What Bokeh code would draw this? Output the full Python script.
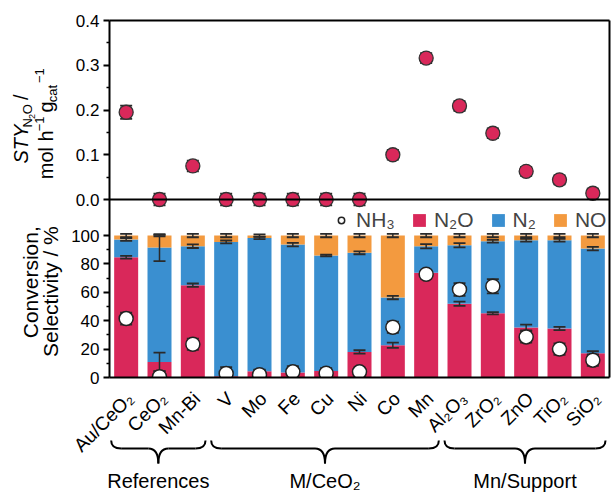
import math
import numpy as np
from bokeh.plotting import figure
from bokeh.models import (FactorRange, Range1d, FixedTicker, Span, LinearAxis,
                          Legend, LegendItem, ColumnDataSource)
from bokeh.layouts import column, row
from bokeh.core.properties import value
from bokeh.embed import file_html
from bokeh.resources import INLINE

# ---------------- data ----------------
catalysts = ["Au/CeO₂", "CeO₂", "Mn-Bi", "V", "Mo", "Fe", "Cu", "Ni", "Co", "Mn",
             "Al₂O₃", "ZrO₂", "ZnO", "TiO₂", "SiO₂"]
sty_n2o = [0.195, 0.0, 0.075, 0.0, 0.0, 0.0, 0.0, 0.0, 0.100, 0.316,
           0.209, 0.148, 0.063, 0.044, 0.014]
sty_err = [0.015, 0.013, 0.012, 0.013, 0.013, 0.013, 0.013, 0.013, 0.011, 0.011,
           0.011, 0.011, 0.010, 0.010, 0.010]
sel_n2o = [84.7, 11.0, 65.0, 0.8, 4.4, 3.5, 4.5, 18.0, 22.7, 73.7, 52.0, 45.3, 35.2, 34.5, 17.0]
sel_n2 = [12.5, 80.5, 27.5, 94.7, 93.9, 90.1, 81.5, 69.8, 33.6, 18.8, 41.2, 50.7, 61.5, 62.2, 73.8]
sel_no = [2.8, 8.5, 7.5, 4.5, 1.7, 6.4, 14.0, 12.2, 43.7, 7.5, 6.8, 4.0, 3.3, 3.3, 9.2]
err_n2o = [1.0, 6.5, 1.2, 0.5, 0.8, 0.8, 0.8, 1.2, 1.8, 1.0, 1.5, 0.8, 2.0, 1.2, 1.5]
err_n2 = [1.0, 9.5, 1.3, 1.0, 0.8, 1.2, 0.6, 1.0, 1.2, 1.5, 1.5, 1.0, 1.0, 1.0, 1.2]
err_no = [1.2, 0.5, 1.2, 1.2, 0.8, 1.2, 1.2, 1.2, 1.2, 1.2, 1.2, 1.2, 1.2, 1.2, 1.2]
conv_nh3 = [41.5, 0.5, 23.4, 2.8, 2.0, 4.0, 3.0, 4.0, 35.4, 72.7, 62.0, 64.3, 28.6, 20.0, 12.2]
err_nh3 = [4.2, 4.0, 4.0, 4.5, 3.5, 4.0, 3.5, 3.0, 4.0, 3.0, 4.5, 5.0, 4.0, 4.0, 4.0]
groups = ["References", "M/CeO₂", "Mn/Support"]
group_sizes = [3, 7, 5]
sty_ticks = [0.0, 0.1, 0.2, 0.3, 0.4]
sty_minor = [0.05, 0.15, 0.25, 0.35]
pct_ticks = [0, 20, 40, 60, 80, 100]
pct_minor = [10, 30, 50, 70, 90]

# ---------------- style / layout ----------------
C_N2O, C_N2, C_NO = "#D9285A", "#3A8FD0", "#F39A3F"
ERR = "#2a2a2a"
FONT = "Liberation Sans"
WIN_W, WIN_H = 611, 492
WL = 66                      # width of the y-label strip
FL, BR = 109, 2              # frame left (page px), right border
BT, FRAME_H, BB = 20, 357, 10
H1 = BT + FRAME_H + BB
H2 = WIN_H - H1
N = len(catalysts)
CAT_PX = (WIN_W - FL - BR) / N
PX_PER_PCT = 1.42
PCT_END = FRAME_H / PX_PER_PCT
STY_PX = 179 / 0.4
STY_END = 0.4
STY_START = -(FRAME_H - 179) / STY_PX


def sty_to_pct(v):
    return (v - STY_START) / (STY_END - STY_START) * PCT_END


def text_src(items):
    return ColumnDataSource(dict(x=[i[0] for i in items], y=[i[1] for i in items],
                                 text=[i[2] for i in items],
                                 size=[f"{i[3]}px" for i in items],
                                 style=[i[4] for i in items]))


# ---------------- main plot ----------------
xr = FactorRange(factors=catalysts, range_padding=0)
p = figure(width=WIN_W - WL, height=H1, x_range=xr, y_range=Range1d(0, PCT_END + 0.05),
           output_backend="svg", toolbar_location=None, x_axis_location=None,
           min_border_left=FL - WL, min_border_right=BR, min_border_top=BT,
           min_border_bottom=BB)
p.extra_y_ranges = {"sty": Range1d(STY_START, STY_END)}
p.xgrid.grid_line_color = None
p.ygrid.grid_line_color = None
p.outline_line_color = None

for side in ("above", "right", "below"):
    ax = LinearAxis(ticker=FixedTicker(ticks=[]), axis_line_color="black", axis_line_width=2,
                    major_tick_line_color=None, minor_tick_line_color=None,
                    major_tick_out=0, major_tick_in=0, minor_tick_out=0, minor_tick_in=0,
                    major_label_standoff=0, major_label_text_font_size="1px")
    p.add_layout(ax, side)

# stacked bars
src = ColumnDataSource(dict(x=catalysts, n2o=sel_n2o, n2=sel_n2, no=sel_no))
bars = p.vbar_stack(["n2o", "n2", "no"], x="x", width=0.72, source=src,
                    fill_color=[C_N2O, C_N2, C_NO], line_color=None)

lvl1 = np.array(sel_n2o)
lvl2 = lvl1 + np.array(sel_n2)
lvl3 = lvl2 + np.array(sel_no)
ex = catalysts * 3
ey = np.concatenate([lvl1, lvl2, lvl3])
ee = np.array(err_n2o + err_n2 + err_no)
p.segment(x0=ex, y0=ey - ee, x1=ex, y1=ey + ee, line_color=ERR, line_width=1.5)
p.scatter(x=ex * 2, y=np.concatenate([ey - ee, ey + ee]), marker="dash", size=12,
          line_color=ERR, line_width=1.8)

# NH3 conversion
nh3 = np.array(conv_nh3)
ne = np.array(err_nh3)
p.segment(x0=catalysts, y0=nh3 - ne, x1=catalysts, y1=nh3 + ne, line_color=ERR, line_width=1.5)
p.scatter(x=catalysts * 2, y=np.concatenate([nh3 - ne, nh3 + ne]), marker="dash", size=12,
          line_color=ERR, line_width=1.8)
nh3_r = p.scatter(x=catalysts, y=conv_nh3, marker="circle", size=14, fill_color="white",
                  line_color="#222222", line_width=1.5)

# zero line of the STY panel
p.add_layout(Span(location=0, dimension="width", y_range_name="sty",
                  line_color="black", line_width=2))

# STY points
sv = np.array(sty_n2o)
se = np.array(sty_err)
p.segment(x0=catalysts, y0=sv - se, x1=catalysts, y1=sv + se, line_color=ERR,
          line_width=1.5, y_range_name="sty")
p.scatter(x=catalysts * 2, y=np.concatenate([sv - se, sv + se]), marker="dash", size=12,
          line_color=ERR, line_width=1.8, y_range_name="sty")
p.scatter(x=catalysts, y=sty_n2o, marker="circle", size=14, fill_color=C_N2O,
          line_color="#333333", line_width=1.3, y_range_name="sty")

# shared left spine with both tick sets
ya = p.yaxis[0]
major = [float(v) for v in pct_ticks] + [sty_to_pct(v) for v in sty_ticks]
minor = [float(v) for v in pct_minor] + [sty_to_pct(v) for v in sty_minor]
ya.ticker = FixedTicker(ticks=major, minor_ticks=minor)
overrides = {float(v): str(v) for v in pct_ticks}
overrides.update({sty_to_pct(v): f"{v:.1f}" for v in sty_ticks})
ya.major_label_overrides = overrides
ya.axis_line_width = 2
ya.major_tick_line_width = 2
ya.minor_tick_line_width = 1.5
ya.major_tick_out = 6
ya.major_tick_in = 0
ya.minor_tick_out = 3
ya.minor_tick_in = 0
ya.major_label_standoff = 4
ya.major_label_text_font = FONT
ya.major_label_text_font_size = "17px"
ya.major_label_text_color = "black"

legend = Legend(items=[LegendItem(label="NH₃", renderers=[nh3_r]),
                       LegendItem(label="N₂O", renderers=[bars[0]]),
                       LegendItem(label="N₂", renderers=[bars[1]]),
                       LegendItem(label="NO", renderers=[bars[2]])],
                orientation="horizontal", location=(224, 145),
                label_text_font=FONT, label_text_font_size="21px",
                glyph_width=16, glyph_height=16, spacing=16, label_standoff=7,
                padding=0, margin=0, border_line_color=None, background_fill_alpha=0)
p.add_layout(legend)

# ---------------- y-label strip (page pixel coordinates) ----------------
lab = figure(width=WL, height=H1, x_range=Range1d(0, WL), y_range=Range1d(H1, 0),
             output_backend="svg", toolbar_location=None,
             x_axis_location=None, y_axis_location=None,
             min_border_left=0, min_border_right=0, min_border_top=0, min_border_bottom=0)
lab.outline_line_color = None
lab.xgrid.grid_line_color = None
lab.ygrid.grid_line_color = None

AW = {'S': 667, 'T': 611, 'Y': 667, 'N': 722, 'O': 778, '2': 556, ' ': 278, '/': 278,
      'm': 833, 'o': 556, 'l': 222, 'h': 556, '−': 584, '1': 556, 'g': 556, 'c': 500,
      'a': 556, 't': 278}


def pieces(seq, start_y, base_x):
    out = []
    y = start_y
    for text, size, shift, gap, style in seq:
        y -= gap
        out.append((base_x + shift - 0.35 * size, y, text, size, style))
        y -= sum(AW.get(ch, 556) for ch in text) * size / 1000
    return out


ylab = pieces([("STY", 20, 0, 0, "italic"), ("N", 13, 5, 0, "normal"), ("2", 9, 8, 0, "normal"),
               ("O", 13, 5, 0, "normal"), ("/", 20, 0, 5.5, "normal")], 155, 27)
ylab += pieces([("mol h", 20, 0, 0, "normal"), ("−1", 13, -8, 3, "normal"),
                ("g", 20, 0, 5.5, "normal"), ("cat", 13, 5, 0, "normal"),
                ("−1", 13, -8, 3.6, "normal")], 172, 52)
lab.text(x="x", y="y", text="text", text_font_size="size", text_font_style="style",
         source=text_src(ylab), angle=math.pi / 2, text_align="left", text_baseline="middle",
         text_font=value(FONT), text_color="black")
lab.text(x=[37 - 0.35 * 21, 57 - 0.35 * 21], y=[223, 223],
         text=["Conversion,", "Selectivity / %"], angle=math.pi / 2,
         text_align="right", text_baseline="middle", text_font=value(FONT),
         text_font_size="21px", text_color="black")

# ---------------- category labels, braces and groups ----------------
q = figure(width=WIN_W, height=H2, x_range=Range1d(-FL / CAT_PX, N + BR / CAT_PX),
           y_range=Range1d(H2, 0), output_backend="svg", toolbar_location=None,
           x_axis_location=None, y_axis_location=None,
           min_border_left=0, min_border_right=0, min_border_top=0, min_border_bottom=0)
q.outline_line_color = None
q.xgrid.grid_line_color = None
q.ygrid.grid_line_color = None

cat_pos = np.arange(N) + 0.5
q.text(x=cat_pos, y=[395 - H1] * N, text=catalysts, angle=math.pi / 4, x_offset=4,
       text_align="right", text_baseline="middle", text_font=value(FONT),
       text_font_size="19px", text_color="black")

ends = np.cumsum(group_sizes)
starts = ends - np.array(group_sizes)
bx0 = starts + 0.05
bx1 = ends - 0.12
bxm = (bx0 + bx1) / 2
r = 0.3
Y0, Y1, Y2 = 440 - H1, 448 - H1, 463 - H1
G = len(groups)
qx0 = np.concatenate([bx0, bxm - r, bxm, bx1 - r])
qx1 = np.concatenate([bx0 + r, bxm, bxm + r, bx1])
qcx = np.concatenate([bx0, bxm, bxm, bx1])
qy0 = np.array([Y0] * G + [Y1] * G + [Y2] * G + [Y1] * G)
qy1 = np.array([Y1] * G + [Y2] * G + [Y1] * G + [Y0] * G)
qcy = np.array([Y1] * (4 * G))
q.quadratic(x0=qx0, y0=qy0, x1=qx1, y1=qy1, cx=qcx, cy=qcy, line_color="black", line_width=2)
q.segment(x0=np.concatenate([bx0 + r, bxm + r]), y0=[Y1] * (2 * G),
          x1=np.concatenate([bxm - r, bx1 - r]), y1=[Y1] * (2 * G),
          line_color="black", line_width=2)
q.text(x=bxm, y=[480 - H1] * G, text=groups, text_align="center", text_baseline="middle",
       text_font=value(FONT), text_font_size="20px", text_color="black")

layout = column(row(lab, p, spacing=0), q, spacing=0)
open("out.html", "w").write(file_html(layout, INLINE))
